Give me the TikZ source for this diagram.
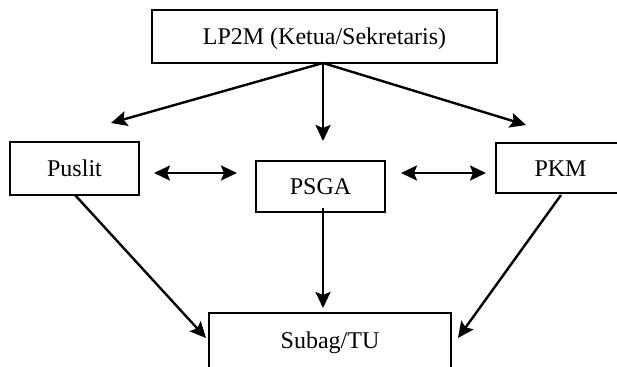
\documentclass[tikz,border=0pt]{standalone}
\usepackage{fontspec}
\setmainfont{Liberation Serif}
\usetikzlibrary{arrows.meta}
\begin{document}
\begin{tikzpicture}[x=1pt,y=-1pt,
  box/.style={draw,line width=1.8pt,inner sep=0pt,text height=16pt,text depth=0pt,
    font=\fontsize{24}{28}\selectfont},
  tip/.style={Stealth[length=16pt,width=15pt,inset=3pt]},
  conn/.style={line width=2.4pt,-{Stealth[length=16pt,width=15pt,inset=3pt]}},
  dconn/.style={line width=2.4pt,{Stealth[length=16pt,width=15pt,inset=3pt]}-{Stealth[length=16pt,width=15pt,inset=3pt]}}]
\useasboundingbox (0,0) rectangle (617,366);
\clip (0,0) rectangle (617,366);
\fill[white] (0,0) rectangle (617,366);
% nodes
\node[box,minimum width=345pt,minimum height=53pt] (lp2m) at (324.5,36.5) {LP2M (Ketua/Sekretaris)};
\node[box,minimum width=129pt,minimum height=53pt] (puslit) at (74.5,168.5) {Puslit};
\node[box,minimum width=129pt,minimum height=51pt] (psga) at (320.5,186.5) {PSGA};
\node[box,minimum width=129pt,minimum height=50pt] (pkm) at (560.5,168) {PKM};
\node[box,minimum width=242pt,minimum height=55pt] (subag) at (330,340.5) {Subag/TU};
% connector end points
\coordinate (src) at (323,63);
\coordinate (tpus) at (111,123);
\coordinate (tpsga) at (323,141);
\coordinate (tpkm) at (526,125);
\coordinate (dl1) at (154,173);
\coordinate (dl2) at (237,173);
\coordinate (dr1) at (401,173);
\coordinate (dr2) at (486,173);
\coordinate (spus) at (75,195);
\coordinate (spsga) at (323,208);
\coordinate (spkm) at (561,195);
\coordinate (sb1) at (206,338);
\coordinate (sb2) at (323,308);
\coordinate (sb3) at (458,338);
% connectors
\draw[conn] (src) -- (tpus);
\draw[conn] (src) -- (tpsga);
\draw[conn] (src) -- (tpkm);
\draw[dconn] (dl1) -- (dl2);
\draw[dconn] (dr1) -- (dr2);
\draw[conn] (spus) -- (sb1);
\draw[conn] (spsga) -- (sb2);
\draw[conn] (spkm) -- (sb3);
\end{tikzpicture}
\end{document}
